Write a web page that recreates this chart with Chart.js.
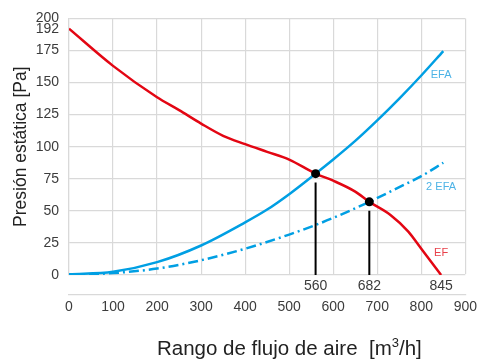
<!DOCTYPE html>
<html lang="es">
<head>
  <meta charset="UTF-8">
  <title>Curva del ventilador</title>
  <script src="https://cdn.jsdelivr.net/npm/chart.js"></script>
  <style>
    html, body { margin: 0; padding: 0; background: #fff; }
    #wrap { width: 481px; height: 363px; }
  </style>
</head>
<body>
  <div id="wrap"><canvas id="fanChart"></canvas></div>

  <script>
    // Curva del ventilador (EF)
    const efFlow = [0, 100, 200, 250, 300, 350, 400, 450, 500, 560, 600, 650, 682, 730, 770, 800, 845];
    const efPressure = [192, 163, 138.5, 128.5, 118, 108.5, 102, 96, 90, 79, 73.5, 65, 57, 46.8, 34, 20.5, 0];

    // Curva de la instalación con 1 EFA
    const efaFlow = [0, 100, 200, 300, 400, 450, 500, 560, 600, 650, 700, 750, 800, 850];
    const efaPressure = [0.5, 2.5, 10, 23, 41, 51, 63, 79, 90, 104.5, 120.5, 137.5, 155.5, 174.5];

    // Curva de la instalación con 2 EFA
    const efa2Flow = [0, 100, 200, 300, 400, 500, 560, 600, 682, 750, 800, 850];
    const efa2Pressure = [0, 1.5, 5, 11.5, 20.5, 31.5, 39, 44.5, 57, 68.5, 77, 87.5];

    // Puntos de trabajo y líneas verticales
    const opFlow = [560, 682];
    const opPressure = [79, 57];
    const dropTop = [72, 50];

    // Etiquetas de los ejes
    const markedFlows = [560, 682, 845];
    const yTickValues = [0, 25, 50, 75, 100, 125, 150, 175, 192, 200];

    // Nombres de las curvas
    const curveNames = ['EFA', '2 EFA', 'EF'];
    const curveNameFlow = [845, 845, 845];
    const curveNamePressure = [156, 69, 17];

    const RED = '#e30613';
    const BLUE = '#009fe3';
    const GRID = '#d9d9d9';
    const TICK = '#3c3c3c';
    const FONT = 'Liberation Sans, Arial, Helvetica, sans-serif';

    const toPoints = (xs, ys) => xs.map((x, i) => ({ x, y: ys[i] }));

    const dropDatasets = opFlow.map((x, i) => ({
      data: [{ x, y: 0 }, { x, y: dropTop[i] }],
      borderColor: '#000',
      borderWidth: 2,
      pointRadius: 0,
      order: 1
    }));

    // Texto "EFA", "2 EFA", "EF" junto a las curvas
    const curveNamePlugin = {
      id: 'curveNames',
      afterDatasetsDraw(chart) {
        const { ctx, scales: { x, y } } = chart;
        const colors = ['#4db3e6', '#4db3e6', '#e8404a'];
        ctx.save();
        ctx.font = '11px ' + FONT;
        ctx.textAlign = 'center';
        ctx.textBaseline = 'middle';
        curveNames.forEach((name, i) => {
          ctx.fillStyle = colors[i];
          ctx.fillText(name, x.getPixelForValue(curveNameFlow[i]), y.getPixelForValue(curveNamePressure[i]));
        });
        ctx.restore();
      }
    };

    // Título del eje X con superíndice
    const xTitlePlugin = {
      id: 'xTitle',
      afterDraw(chart) {
        const { ctx, chartArea } = chart;
        const main = 'Rango de flujo de aire  [m';
        const sup = '3';
        const tail = '/h]';
        ctx.save();
        ctx.fillStyle = '#222';
        ctx.textBaseline = 'alphabetic';
        ctx.font = '20.5px ' + FONT;
        const wMain = ctx.measureText(main).width;
        const wTail = ctx.measureText(tail).width;
        ctx.font = '13px ' + FONT;
        const wSup = ctx.measureText(sup).width;
        const total = wMain + wSup + wTail;
        const cx = chartArea.left + chartArea.width * 0.556;
        const left = cx - total / 2;
        const base = chart.height - 8;
        ctx.textAlign = 'left';
        ctx.font = '20.5px ' + FONT;
        ctx.fillText(main, left, base);
        ctx.font = '13px ' + FONT;
        ctx.fillText(sup, left + wMain, base - 8);
        ctx.font = '20.5px ' + FONT;
        ctx.fillText(tail, left + wMain + wSup, base);
        ctx.restore();
      }
    };

    new Chart(document.getElementById('fanChart'), {
      type: 'line',
      data: {
        datasets: [
          {
            data: toPoints(opFlow, opPressure),
            showLine: false,
            pointRadius: 4.5,
            pointBackgroundColor: '#000',
            pointBorderColor: '#000',
            pointBorderWidth: 0,
            order: 0
          },
          ...dropDatasets,
          {
            label: 'EF',
            data: toPoints(efFlow, efPressure),
            borderColor: RED,
            borderWidth: 2.5,
            pointRadius: 0,
            cubicInterpolationMode: 'monotone',
            order: 2
          },
          {
            label: 'EFA',
            data: toPoints(efaFlow, efaPressure),
            borderColor: BLUE,
            borderWidth: 2.5,
            pointRadius: 0,
            cubicInterpolationMode: 'monotone',
            order: 2
          },
          {
            label: '2 EFA',
            data: toPoints(efa2Flow, efa2Pressure),
            borderColor: BLUE,
            borderWidth: 2.5,
            borderDash: [10, 4, 2, 4],
            pointRadius: 0,
            cubicInterpolationMode: 'monotone',
            order: 2
          }
        ]
      },
      options: {
        responsive: true,
        maintainAspectRatio: false,
        animation: false,
        layout: { padding: { top: 17, right: 15, left: 0, bottom: 0 } },
        plugins: {
          legend: { display: false },
          tooltip: { enabled: false }
        },
        scales: {
          x2: {
            type: 'linear',
            position: 'bottom',
            weight: 0,
            min: 0,
            max: 900,
            afterBuildTicks: s => { s.ticks = markedFlows.map(v => ({ value: v })); },
            grid: { display: false, drawTicks: false },
            border: { display: false },
            ticks: { autoSkip: false, maxRotation: 0, padding: 3, color: TICK, font: { family: FONT, size: 14 } },
            afterFit: s => { s.height = 20; }
          },
          x: {
            type: 'linear',
            position: 'bottom',
            weight: 1,
            min: 0,
            max: 900,
            ticks: { stepSize: 100, autoSkip: false, maxRotation: 0, padding: 4, color: TICK, font: { family: FONT, size: 14 } },
            grid: { color: GRID, lineWidth: 1.2, drawTicks: false },
            border: { color: GRID, width: 1.2 },
            afterFit: s => { s.height = 68; }
          },
          y: {
            min: 0,
            max: 200,
            afterBuildTicks: s => { s.ticks = yTickValues.map(v => ({ value: v })); },
            ticks: { autoSkip: false, padding: 10, color: TICK, font: { family: FONT, size: 14 } },
            grid: {
              color: c => (c.tick && c.tick.value === 192 ? 'rgba(0,0,0,0)' : GRID),
              lineWidth: 1.2,
              drawTicks: false
            },
            border: { color: GRID, width: 1.2 },
            title: {
              display: true,
              text: 'Presión estática [Pa]',
              color: '#222',
              font: { family: FONT, size: 17.5 },
              padding: { top: 11, bottom: 0 }
            },
            afterFit: s => { s.width = 69; }
          }
        }
      },
      plugins: [curveNamePlugin, xTitlePlugin]
    });
  </script>
</body>
</html>
